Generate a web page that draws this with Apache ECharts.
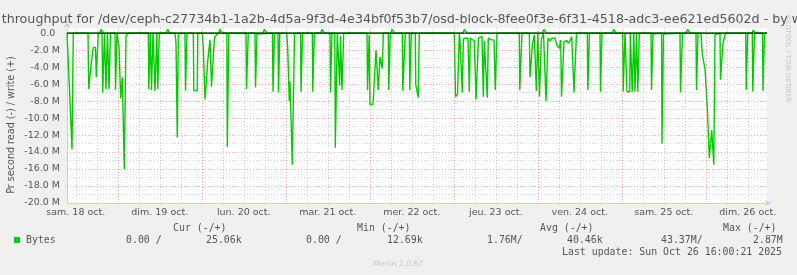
<!DOCTYPE html>
<html>
<head>
<meta charset="utf-8">
<script src="https://cdn.jsdelivr.net/npm/echarts@6/dist/echarts.min.js"></script>
<style>
html,body{margin:0;padding:0;background:#f0f0f0;}
#chart{width:797px;height:275px;}
</style>
</head>
<body>
<div id="chart"></div>
<script>
// ---- data (x = hours since sam. 18 oct. 00:00, y = millions of bytes per second) ----
const xMin = 9.5;
const xMax = 209.5;
const dayLabelHours = [12, 36, 60, 84, 108, 132, 156, 180, 204];
const dayLabels = ['sam. 18 oct.', 'dim. 19 oct.', 'lun. 20 oct.', 'mar. 21 oct.', 'mer. 22 oct.', 'jeu. 23 oct.', 'ven. 24 oct.', 'sam. 25 oct.', 'dim. 26 oct.'];
const majorHours = [24, 48, 72, 96, 120, 144, 168, 192];
const minorHours = [12, 18, 30, 36, 42, 54, 60, 66, 78, 84, 90, 102, 108, 114, 126, 132, 138, 150, 156, 162, 174, 180, 186, 198, 204];
const yTicks = [-20, -18, -16, -14, -12, -10, -8, -6, -4, -2, 0];
const majorLevels = [-18, -16, -14, -12, -10, -8, -6, -4, -2];
const minorLevels = [-19, -17, -15, -13, -11, -9, -7, -5, -3, -1];

// read (negative)
const readHours = [
 9.50, 10.07, 10.21, 10.64, 10.93, 11.07, 11.30,
 15.50, 15.70, 16.21, 16.36, 16.73, 17.01, 17.64, 17.87, 18.21, 18.44,
 19.50, 19.70, 20.07, 20.21, 20.50, 20.64, 20.93, 21.07, 21.30, 21.50, 21.79, 21.93,
 23.21, 23.36, 23.64, 23.79, 23.93, 24.36, 24.73, 24.84, 25.30, 25.79, 25.87, 26.27, 26.36, 26.84, 27.07,
 32.73, 32.87, 33.16, 33.30, 33.50, 33.64, 33.93, 34.07, 34.50, 34.64, 35.01, 35.16, 35.30, 35.44, 35.73, 35.87,
 40.36, 40.64, 40.84, 41.01, 41.30, 41.59,
 43.21, 43.36, 43.64, 43.79, 45.59, 45.73, 46.73, 46.87,
 48.16, 48.44, 48.73, 48.93, 49.41, 49.70, 50.36, 50.79, 51.36, 51.64, 52.07, 52.79,
 55.16, 55.30, 55.59, 55.73, 60.64, 60.79, 61.16, 61.30,
 63.21, 63.36, 63.64, 63.79, 64.16, 64.36,
 68.21, 68.36, 68.64, 68.79, 69.79, 69.93, 70.16, 70.30,
 72.27, 72.56, 72.93, 73.01, 73.21, 73.70, 73.87, 74.27, 74.50,
 76.21, 76.36, 76.64, 76.79, 79.59, 79.73, 80.01, 80.16,
 84.64, 84.79, 85.07, 85.21, 86.01, 86.16, 86.59, 86.73,
 87.21, 87.41, 87.64, 87.87, 88.07, 88.27, 88.56,
 95.21, 95.36, 95.64, 95.84, 96.07, 96.79, 96.99, 97.50, 97.79, 98.16, 98.44, 98.93, 99.41, 99.59, 99.87,
 101.30, 101.44, 101.73, 101.87, 105.30, 105.44, 106.01, 106.16,
 107.30, 107.44, 107.73, 107.87, 109.00, 109.14, 109.66, 109.86, 110.00, 110.14,
 120.16, 120.50, 121.07, 121.36, 121.59, 121.79, 122.21, 122.44, 122.73, 122.93, 124.07, 124.44, 124.73,
 125.21, 125.87, 126.36, 126.84, 127.07, 127.50, 128.07, 128.44, 128.73, 129.13, 129.59, 129.87,
 130.84, 131.50, 131.87, 132.07, 132.36,
 138.73, 138.87, 139.30, 139.50,
 141.59, 141.79, 142.16, 142.44, 142.73, 143.01, 143.44, 143.59, 143.87, 144.01, 144.36, 144.50, 144.87, 145.01, 145.41, 145.64,
 146.21, 146.36, 146.79, 146.93, 147.50, 147.99, 148.44, 148.93, 149.41, 149.87, 150.16, 150.56, 150.79, 151.30,
 151.50, 152.27, 152.73, 153.21, 153.70, 153.99, 154.36, 154.87, 155.07,
 158.16, 158.30, 158.64, 158.79, 161.79, 161.93, 162.21, 162.36,
 168.27, 168.41, 168.79, 168.93, 169.36, 169.50, 170.30, 170.44, 170.87, 171.01, 171.30, 171.44,
 171.64, 171.79, 172.07, 172.21, 172.44, 172.59, 172.87, 173.01,
 176.36, 176.50, 176.79, 176.93, 177.30, 177.50,
 179.36, 179.50, 179.79, 179.93, 180.36,
 184.64, 184.79, 185.21, 185.36, 189.21, 189.36, 189.64, 189.79,
 190.64, 191.01, 191.30, 191.79, 192.27, 192.44, 192.73, 193.01, 193.50, 193.70, 194.16, 194.30, 194.64, 194.93,
 196.07, 196.21, 196.73, 196.93, 197.30, 197.70,
 203.41, 203.56, 203.84, 203.99, 205.30, 205.44, 205.79, 205.93,
 208.21, 208.36, 208.64, 208.79, 209.50
];
const readValues = [
 0, 0, -6.7, -6.7, -13.7, -13.7, 0,
 0, -6.6, -6.6, -3.8, -3.8, -1.7, -1.7, -5.2, -5.2, 0,
 0, -7.0, -7.0, 0, 0, -6.6, -6.6, 0, 0, -6.6, -6.6, 0,
 0, -6.7, -6.7, 0, 0, -1.6, -1.6, -7.7, -5.2, -5.2, -16.0, -16.0, -0.3, -0.1, 0,
 0, -6.6, -6.6, 0, 0, -6.7, -6.7, 0, 0, -6.8, -6.8, 0, 0, -6.6, -6.6, 0,
 0, -1.1, -1.1, -12.3, -0.25, 0,
 0, -6.8, -6.8, 0, 0, -6.8, -6.8, 0,
 0, -1.7, -1.7, -7.8, -5.2, -3.3, -0.8, -6.3, -6.3, -0.5, -0.4, 0,
 0, -13.4, -13.4, 0, 0, -6.6, -6.6, 0,
 0, -6.4, -6.4, -0.1, -0.1, 0,
 0, -6.9, -6.9, 0, 0, -7.0, -7.0, 0,
 0, -1.8, -1.8, -8.0, -5.7, -5.7, -15.5, -15.5, 0,
 0, -6.9, -6.9, 0, 0, -6.9, -6.9, 0,
 0, -7.0, -7.0, 0, 0, -13.5, -13.5, 0,
 0, -6.2, -0.3, -0.3, -6.7, -6.7, 0,
 0, -6.7, -6.7, -0.2, -8.4, -8.4, -8.0, -8.0, -2.0, -2.0, -6.7, -2.8, -2.8, -4.2, 0,
 0, -6.7, -6.7, 0, 0, -6.8, -6.8, 0,
 0, -6.7, -6.7, 0, 0, -6.0, -6.0, -7.6, -7.6, 0,
 0, -7.5, -7.2, -7.2, -0.1, -0.9, -1.0, -7.0, -0.9, -0.6, -0.6, -6.9, -0.6,
 -0.6, -0.9, -7.8, -7.7, -0.6, -0.6, -0.4, -7.5, -0.9, -0.9, -7.6, -0.6,
 -0.8, -0.8, -6.7, -6.7, 0,
 0, -6.7, -6.7, 0,
 0, -5.2, -5.2, -1.6, -0.8, -0.2, -0.1, -6.8, -6.8, -0.1, -0.1, -7.5, -7.5, -0.8, -0.6, 0,
 0, -8.0, -8.0, -0.6, -0.9, -0.6, -0.4, -0.6, -1.4, -1.6, -1.8, -0.8, -7.5, -7.5,
 -1.0, -0.9, -1.2, -0.9, -0.4, -0.2, -7.0, -7.0, 0,
 0, -6.7, -6.7, 0, 0, -6.9, -6.9, 0,
 0, -6.9, -6.9, 0, 0, -6.9, -6.9, 0, 0, -6.9, -6.9, 0,
 0, -6.9, -6.9, 0, 0, -6.9, -6.9, 0,
 0, -6.7, -6.7, -0.1, -0.1, 0,
 0, -13.0, -13.0, -0.1, 0,
 0, -7.0, -7.0, 0, 0, -6.7, -6.7, 0,
 0, -2.5, -2.6, -4.2, -4.2, -8.8, -8.9, -14.7, -14.7, -11.4, -11.4, -15.5, -0.2, 0,
 0, -5.5, -5.5, -1.2, -1.0, 0,
 0, -6.7, -6.7, 0, 0, -6.9, -6.9, 0,
 0, -6.8, -6.8, 0, 0
];

// write (positive)
const writeHours = [
 9.5,
 18.86, 19.21, 19.61, 19.96,
 37.89, 38.24, 38.64, 38.99,
 52.81, 53.16, 53.56, 53.91,
 56.6, 56.9, 57.1, 57.4,
 65.52, 65.87, 66.27, 66.62,
 82.01, 82.36, 82.76, 83.11,
 102.01, 102.36, 102.76, 103.11,
 122.66, 123.01, 123.41, 123.76,
 145.38, 145.73, 146.13, 146.48,
 165.32, 165.67, 166.07, 166.42,
 186.46, 186.81, 187.21, 187.56,
 205.24, 205.59, 205.99, 206.34,
 209.5
];
const writeValues = [
 0,
 0, 0.45, 0.45, 0,
 0, 0.45, 0.45, 0,
 0, 0.45, 0.45, 0,
 0, 0.15, 0.15, 0,
 0, 0.45, 0.45, 0,
 0, 0.45, 0.45, 0,
 0, 0.45, 0.45, 0,
 0, 0.45, 0.45, 0,
 0, 0.45, 0.45, 0,
 0, 0.45, 0.45, 0,
 0, 0.45, 0.45, 0,
 0, 0.35, 0.35, 0,
 0
];

const titleText = 'Disk throughput for /dev/ceph-c27734b1-1a2b-4d5a-9f3d-4e34bf0f53b7/osd-block-8fee0f3e-6f31-4518-adc3-ee621ed5602d - by week';
const yName = 'Pr second read (-) / write (+)';
const seriesName = 'Bytes';
const statHeaders = ['Cur (-/+)', 'Min (-/+)', 'Avg (-/+)', 'Max (-/+)'];
const statValues = ['0.00 /', '25.06k', '0.00 /', '12.69k', '1.76M/', '40.46k', '43.37M/', '2.87M'];
const lastUpdate = 'Last update: Sun Oct 26 16:00:21 2025';
const muninVersion = 'Munin 2.0.67';
const sideText = 'RRDTOOL / TOBI OETIKER';

// ---- build ----
const zip = (xs, ys) => xs.map((x, i) => [x, ys[i]]);
const GREEN = '#00cc00';
const TXT = '#555555';
const AXISC = '#c6cdf6';
const MONO = '"DejaVu Sans Mono", monospace';
const SANS = '"DejaVu Sans", sans-serif';

const chart = echarts.init(document.getElementById('chart'), null, {renderer: 'canvas'});

const gridLine = (color) => ({color: color, type: [1, 2], width: 1});

function monoText(x, y, text, align) {
  return {type: 'text', x: x, y: y, silent: true,
    style: {text: text, fill: TXT, font: '9.9px ' + MONO, align: align || 'left', verticalAlign: 'middle'}};
}

const statLeft = [126, 206, 306, 387, 487, 567, 661, 753];
const headerLeft = [173, 357, 540, 723];

const graphics = [
  {type: 'text', x: -29.5, y: 20, silent: true,
   style: {text: titleText, fill: TXT, font: '12.66px ' + SANS, align: 'left', verticalAlign: 'middle'}},
  {type: 'text', x: 11, y: 125, rotation: Math.PI / 2, silent: true,
   style: {text: yName, fill: TXT, font: '9.6px ' + SANS, align: 'center', verticalAlign: 'middle'}},
  {type: 'text', x: 788, y: 58.5, rotation: -Math.PI / 2, silent: true,
   style: {text: sideText, fill: '#c4c4c4', font: '6.8px ' + SANS, align: 'center', verticalAlign: 'middle'}},
  {type: 'rect', shape: {x: 14, y: 237, width: 6, height: 6}, style: {fill: GREEN}, silent: true},
  monoText(26, 240, seriesName),
  monoText(782, 252, lastUpdate, 'right'),
  {type: 'text', x: 373, y: 264, silent: true,
   style: {text: muninVersion, fill: '#c8c8c8', font: '7.7px ' + SANS, align: 'left', verticalAlign: 'middle'}}
];
statHeaders.forEach((t, i) => graphics.push(monoText(headerLeft[i], 228, t)));
statValues.forEach((t, i) => graphics.push(monoText(statLeft[i], 240, t)));

const option = {
  backgroundColor: '#f0f0f0',
  animation: false,
  textStyle: {fontFamily: SANS},
  grid: {left: 67, right: 30, top: 28, bottom: 72, show: true, backgroundColor: '#ffffff', borderWidth: 0},
  xAxis: {
    type: 'value', min: xMin, max: xMax,
    axisLine: {show: true, onZero: false, lineStyle: {color: AXISC, width: 1},
      symbol: ['none', 'arrow'], symbolSize: [5, 6], symbolOffset: [0, 4]},
    axisTick: {show: false},
    splitLine: {show: false},
    axisLabel: {
      customValues: dayLabelHours,
      margin: 5, color: TXT, fontSize: 9.5, fontFamily: SANS,
      formatter: (v) => { const i = dayLabelHours.indexOf(v); return i >= 0 ? dayLabels[i] : ''; }
    }
  },
  yAxis: {
    type: 'value', min: -20, max: 0.6,
    axisLine: {show: true, onZero: false, lineStyle: {color: AXISC, width: 1},
      symbol: ['none', 'arrow'], symbolSize: [5, 6], symbolOffset: [0, 6]},
    axisTick: {show: false},
    splitLine: {show: false},
    axisLabel: {
      customValues: yTicks,
      margin: 7, color: TXT, fontSize: 9.5, fontFamily: SANS,
      formatter: (v) => v === 0 ? '0.0\u2002' : v.toFixed(1) + ' M'
    }
  },
  graphic: graphics,
  series: [
    {
      name: 'grid', type: 'line', z: 1, silent: true,
      data: [[xMin, -20]], showSymbol: false, lineStyle: {width: 0},
      markLine: {
        silent: true, symbol: ['none', 'none'], label: {show: false}, animation: false,
        data: [].concat(
          minorHours.map(h => ({xAxis: h, lineStyle: gridLine('rgba(140,140,140,0.4)')})),
          minorLevels.map(v => ({yAxis: v, lineStyle: gridLine('rgba(140,140,140,0.4)')})),
          majorHours.map(h => ({xAxis: h, lineStyle: gridLine('rgba(245,80,80,0.5)')})),
          majorLevels.map(v => ({yAxis: v, lineStyle: gridLine('rgba(245,80,80,0.5)')}))
        )
      }
    },
    {
      name: seriesName + ' read', type: 'line', z: 3,
      data: zip(readHours, readValues),
      showSymbol: false, symbol: 'none', sampling: null,
      lineStyle: {color: GREEN, width: 1.4}, itemStyle: {color: GREEN}
    },
    {
      name: seriesName + ' write', type: 'line', z: 3,
      data: zip(writeHours, writeValues),
      showSymbol: false, symbol: 'none',
      lineStyle: {color: GREEN, width: 1.4}, itemStyle: {color: GREEN}
    },
    {
      name: 'zero', type: 'line', z: 5, silent: true,
      data: [[xMin, 0], [xMax, 0]],
      showSymbol: false, symbol: 'none',
      lineStyle: {color: '#000000', width: 1}
    }
  ]
};
chart.setOption(option);
</script>
</body>
</html>
